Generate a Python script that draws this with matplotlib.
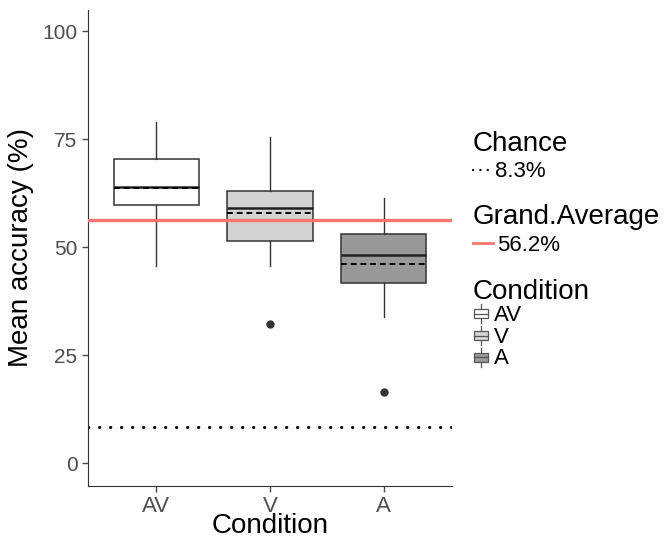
import matplotlib.pyplot as plt
from matplotlib.patches import Patch, Rectangle
from matplotlib.lines import Line2D
from matplotlib.legend_handler import HandlerBase

plt.rcParams['font.family'] = ['Liberation Sans', 'DejaVu Sans']

# values
conditions = ['AV', 'V', 'A']
box_colors = ['#ffffff', '#d3d3d3', '#999999']
whisker_low = [45.7, 45.7, 33.9]
q1 = [59.7, 51.4, 41.7]
medians = [64.0, 59.0, 48.1]
means = [63.6, 58.0, 46.1]
q3 = [70.5, 63.0, 53.0]
whisker_high = [78.9, 75.5, 61.3]
outliers = [[], [32.3], [16.4]]
chance = 8.3
grand_average = 56.2

fig = plt.figure(figsize=(6.68, 5.38), dpi=100)
ax = fig.add_axes([0.1317, 0.0967, 0.545, 0.8847])

stats = []
for i, name in enumerate(conditions):
    stats.append(dict(label=name, whislo=whisker_low[i], q1=q1[i], med=medians[i],
                      q3=q3[i], whishi=whisker_high[i], mean=means[i], fliers=outliers[i]))

bp = ax.bxp(stats, positions=[1, 2, 3], widths=0.75, patch_artist=True,
            showmeans=True, meanline=True, showcaps=False,
            boxprops=dict(edgecolor='#333333', linewidth=1.1),
            whiskerprops=dict(color='#333333', linewidth=1.0),
            medianprops=dict(color='#222222', linewidth=1.8),
            meanprops=dict(color='black', linestyle=(0, (3, 2)), linewidth=1.4),
            flierprops=dict(marker='o', markersize=5, markerfacecolor='#333333',
                            markeredgecolor='#333333'))
for patch, c in zip(bp['boxes'], box_colors):
    patch.set_facecolor(c)

ax.axhline(grand_average, color='#F8766D', linewidth=2.4, zorder=5)
ax.axhline(chance, color='black', linestyle=(0, (0.1, 3.5)), linewidth=2.2,
           dash_capstyle='round')

ax.set_xlim(0.4, 3.6)
ax.set_ylim(-5.3, 104.9)
ax.set_yticks([0, 25, 50, 75, 100])
ax.set_xticks([1, 2, 3])
ax.set_xticklabels(conditions)
ax.tick_params(colors='#4d4d4d', labelsize=15, length=4, width=1)
ax.tick_params(axis='x', labelsize=16)
ax.spines['top'].set_visible(False)
ax.spines['right'].set_visible(False)
ax.spines['left'].set_color('#333333')
ax.spines['bottom'].set_color('#333333')
ax.set_xlabel('Condition', fontsize=20, va='baseline')
ax.xaxis.set_label_coords(0.5, -0.098)
ax.set_ylabel('Mean accuracy (%)', fontsize=20, labelpad=6)


class BoxHandler(HandlerBase):
    def create_artists(self, legend, orig_handle, xdescent, ydescent, width,
                       height, fontsize, trans):
        w = width * 0.8
        x0 = xdescent + (width - w) / 2
        fc = orig_handle.get_facecolor()
        rect = Rectangle((x0, ydescent + height * 0.15), w, height * 0.6,
                         facecolor=fc, edgecolor='#555555', linewidth=0.9, transform=trans)
        mid = Line2D([x0, x0 + w], [ydescent + height * 0.45] * 2, color='#555555',
                     linewidth=0.9, transform=trans)
        wh = Line2D([xdescent + width / 2] * 2, [ydescent - height * 0.15, ydescent + height * 1.05],
                    color='#555555', linewidth=0.9, transform=trans)
        return [wh, rect, mid]


common = dict(frameon=False, loc='upper left', title_fontsize=20, fontsize=16,
              handletextpad=0.2, borderaxespad=0, borderpad=0, alignment='left')

leg1 = fig.legend([Line2D([], [], color='black', linestyle=(0, (0.1, 3.2)),
                          linewidth=1.6, dash_capstyle='round')],
                  [f'{chance}%'], title='Chance', bbox_to_anchor=(0.7075, 0.756),
                  handlelength=0.8, **common)
leg2 = fig.legend([Line2D([], [], color='#F8766D', linewidth=2.0)],
                  [f'{grand_average}%'], title='Grand.Average',
                  bbox_to_anchor=(0.7075, 0.620), handlelength=0.9, **common)
leg3 = fig.legend([Patch(facecolor=c) for c in box_colors], conditions,
                  title='Condition', bbox_to_anchor=(0.7075, 0.482),
                  handlelength=0.75, labelspacing=0.04,
                  handler_map={Patch: BoxHandler()}, **common)

# tighter gap between each legend title and its keys
leg1._legend_box.sep = 3
leg2._legend_box.sep = 3
leg3._legend_box.sep = 0

fig.savefig('out.png', dpi=100)
